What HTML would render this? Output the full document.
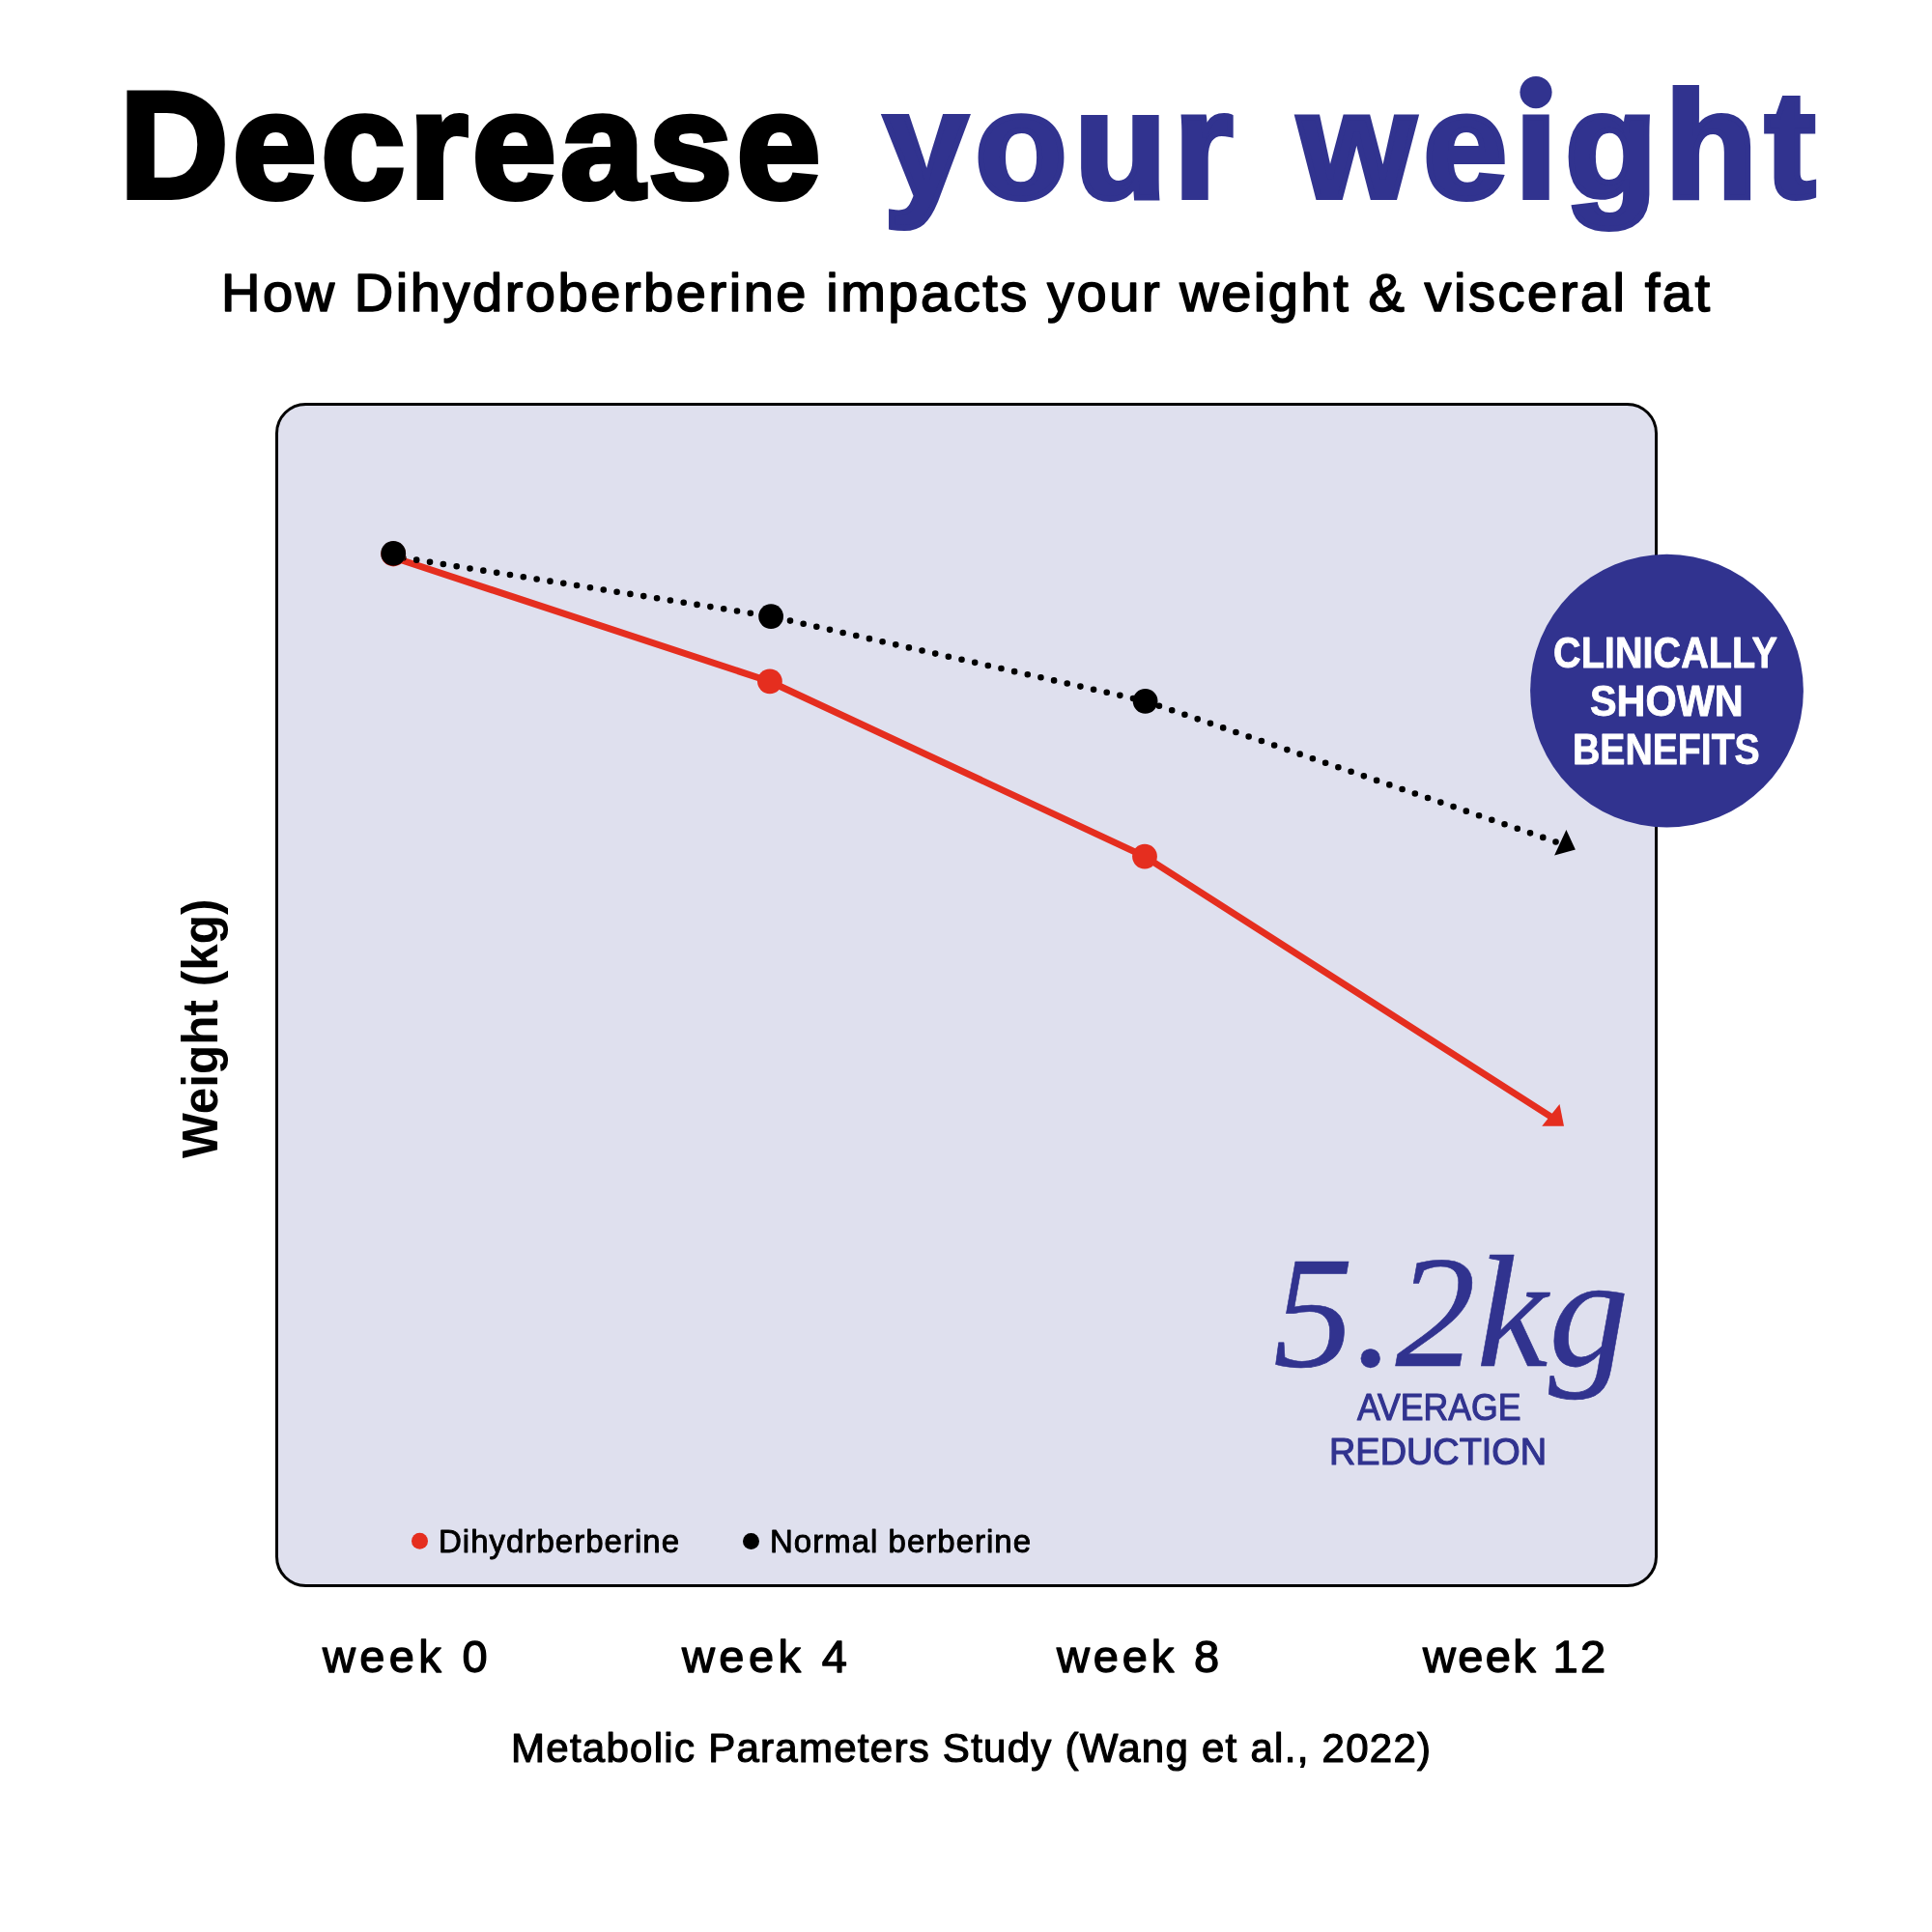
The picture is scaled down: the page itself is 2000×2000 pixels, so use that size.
<!DOCTYPE html>
<html><head><meta charset="utf-8"><title>Decrease your weight</title>
<style>
html,body{margin:0;padding:0;background:#fff;width:2000px;height:2000px;overflow:hidden;}
svg{display:block;position:absolute;left:0;top:0;will-change:transform;}
text{font-kerning:normal;}
</style></head>
<body>
<svg width="2000" height="2000" viewBox="0 0 2000 2000">
<rect x="286.5" y="418.5" width="1428" height="1223" rx="30" ry="30" fill="#dfe0ee" stroke="#000" stroke-width="3"/>
<polyline points="407,577 796.9,705.5 1185,886.6 1610,1158.9" fill="none" stroke="#e52e1f" stroke-width="7" stroke-linejoin="round"/>
<polygon points="1614.5,1143.1 1619,1165.7 1596.2,1165.7" fill="#e52e1f"/>
<polyline points="407.1,575.8 798.1,638.1" fill="none" stroke="#000" stroke-width="6.6" stroke-linecap="round" stroke-dasharray="0 14.0" stroke-dashoffset="3.6"/>
<polyline points="798.1,638.1 1185.6,725.8" fill="none" stroke="#000" stroke-width="6.6" stroke-linecap="round" stroke-dasharray="0 14.0" stroke-dashoffset="7.6"/>
<polyline points="1185.6,725.8 1611,871.6" fill="none" stroke="#000" stroke-width="6.6" stroke-linecap="round" stroke-dasharray="0 14.0" stroke-dashoffset="12.83"/>
<polygon points="1621.4,859.1 1630.85,879.6 1609.1,885.5" fill="#000"/>
<circle cx="407.2" cy="573.5" r="12.9" fill="#e52e1f"/>
<circle cx="796.9" cy="705.3" r="12.9" fill="#e52e1f"/>
<circle cx="1185" cy="886.6" r="12.9" fill="#e52e1f"/>
<circle cx="407.2" cy="572.9" r="12.9" fill="#000"/>
<circle cx="798.1" cy="638.1" r="12.9" fill="#000"/>
<circle cx="1185.6" cy="725.8" r="12.9" fill="#000"/>
<circle cx="1725.5" cy="715.1" r="141.4" fill="#31338f"/>
<circle cx="434.5" cy="1595.3" r="8.5" fill="#e52e1f"/>
<circle cx="777.5" cy="1595.4" r="8.5" fill="#000"/>
<text x="124.00" y="204.00" font-size="155.5" font-weight="700" fill="#000" textLength="725.30" lengthAdjust="spacing" stroke="#000" stroke-width="6" stroke-linejoin="miter" stroke-miterlimit="2" style='font-family:"Liberation Sans", sans-serif;'>Decrease</text>
<text x="915.00" y="204.00" font-size="155.5" font-weight="700" fill="#31338f" textLength="361.12" lengthAdjust="spacing" stroke="#31338f" stroke-width="6" stroke-linejoin="miter" stroke-miterlimit="2" style='font-family:"Liberation Sans", sans-serif;'>your</text>
<text x="1344.00" y="204.00" font-size="155.5" font-weight="700" fill="#31338f" textLength="535.06" lengthAdjust="spacing" stroke="#31338f" stroke-width="6" stroke-linejoin="miter" stroke-miterlimit="2" style='font-family:"Liberation Sans", sans-serif;'>weight</text>
<text x="229.00" y="322.00" font-size="56" font-weight="400" fill="#000" textLength="1541.02" lengthAdjust="spacing" stroke="#000" stroke-width="1.6" stroke-linejoin="round" stroke-miterlimit="2" style='font-family:"Liberation Sans", sans-serif;'>How Dihydroberberine impacts your weight &amp; visceral fat</text>
<text x="0.00" y="0.00" font-size="52" font-weight="700" fill="#000" textLength="268.55" lengthAdjust="spacingAndGlyphs" transform="translate(225.00,1199.00) rotate(-90)" style='font-family:"Liberation Sans", sans-serif;'>Weight (kg)</text>
<text x="1608.00" y="690.50" font-size="43.5" font-weight="700" fill="#fff" textLength="232.07" lengthAdjust="spacingAndGlyphs" stroke="#fff" stroke-width="0.8" stroke-linejoin="round" stroke-miterlimit="2" style='font-family:"Liberation Sans", sans-serif;'>CLINICALLY</text>
<text x="1646.00" y="740.50" font-size="43.5" font-weight="700" fill="#fff" textLength="158.76" lengthAdjust="spacingAndGlyphs" stroke="#fff" stroke-width="0.8" stroke-linejoin="round" stroke-miterlimit="2" style='font-family:"Liberation Sans", sans-serif;'>SHOWN</text>
<text x="1628.00" y="790.50" font-size="43.5" font-weight="700" fill="#fff" textLength="193.69" lengthAdjust="spacingAndGlyphs" stroke="#fff" stroke-width="0.8" stroke-linejoin="round" stroke-miterlimit="2" style='font-family:"Liberation Sans", sans-serif;'>BENEFITS</text>
<text x="1318.00" y="1414.00" font-size="166" font-weight="400" fill="#31338f" textLength="368.15" lengthAdjust="spacing" stroke="#31338f" stroke-width="0.6" stroke-linejoin="round" stroke-miterlimit="2" style='font-family:"Liberation Serif", serif;font-style:italic;'>5.2kg</text>
<text x="1405.00" y="1469.50" font-size="39" font-weight="400" fill="#31338f" textLength="169.56" lengthAdjust="spacingAndGlyphs" stroke="#31338f" stroke-width="1.2" stroke-linejoin="round" stroke-miterlimit="2" style='font-family:"Liberation Sans", sans-serif;'>AVERAGE</text>
<text x="1376.00" y="1516.00" font-size="39" font-weight="400" fill="#31338f" textLength="225.21" lengthAdjust="spacingAndGlyphs" stroke="#31338f" stroke-width="1.2" stroke-linejoin="round" stroke-miterlimit="2" style='font-family:"Liberation Sans", sans-serif;'>REDUCTION</text>
<text x="454.00" y="1607.00" font-size="33" font-weight="400" fill="#000" textLength="249.07" lengthAdjust="spacing" stroke="#000" stroke-width="0.9" stroke-linejoin="round" stroke-miterlimit="2" style='font-family:"Liberation Sans", sans-serif;'>Dihydrberberine</text>
<text x="797.00" y="1607.00" font-size="33" font-weight="400" fill="#000" textLength="270.07" lengthAdjust="spacing" stroke="#000" stroke-width="0.9" stroke-linejoin="round" stroke-miterlimit="2" style='font-family:"Liberation Sans", sans-serif;'>Normal berberine</text>
<text x="334.00" y="1731.00" font-size="47" font-weight="400" fill="#000" textLength="170.55" lengthAdjust="spacing" stroke="#000" stroke-width="1.3" stroke-linejoin="round" stroke-miterlimit="2" style='font-family:"Liberation Sans", sans-serif;'>week 0</text>
<text x="706.00" y="1731.00" font-size="47" font-weight="400" fill="#000" textLength="171.01" lengthAdjust="spacing" stroke="#000" stroke-width="1.3" stroke-linejoin="round" stroke-miterlimit="2" style='font-family:"Liberation Sans", sans-serif;'>week 4</text>
<text x="1094.00" y="1731.00" font-size="47" font-weight="400" fill="#000" textLength="168.02" lengthAdjust="spacing" stroke="#000" stroke-width="1.3" stroke-linejoin="round" stroke-miterlimit="2" style='font-family:"Liberation Sans", sans-serif;'>week 8</text>
<text x="1473.00" y="1731.00" font-size="47" font-weight="400" fill="#000" textLength="189.03" lengthAdjust="spacing" stroke="#000" stroke-width="1.3" stroke-linejoin="round" stroke-miterlimit="2" style='font-family:"Liberation Sans", sans-serif;'>week 12</text>
<text x="529.00" y="1824.00" font-size="42" font-weight="400" fill="#000" textLength="952.04" lengthAdjust="spacing" stroke="#000" stroke-width="1.2" stroke-linejoin="round" stroke-miterlimit="2" style='font-family:"Liberation Sans", sans-serif;'>Metabolic Parameters Study (Wang et al., 2022)</text>
<rect x="1574" y="84" width="32" height="31" fill="#fff"/>
<circle cx="1590" cy="95.6" r="16.6" fill="#31338f"/>
</svg>
</body></html>
